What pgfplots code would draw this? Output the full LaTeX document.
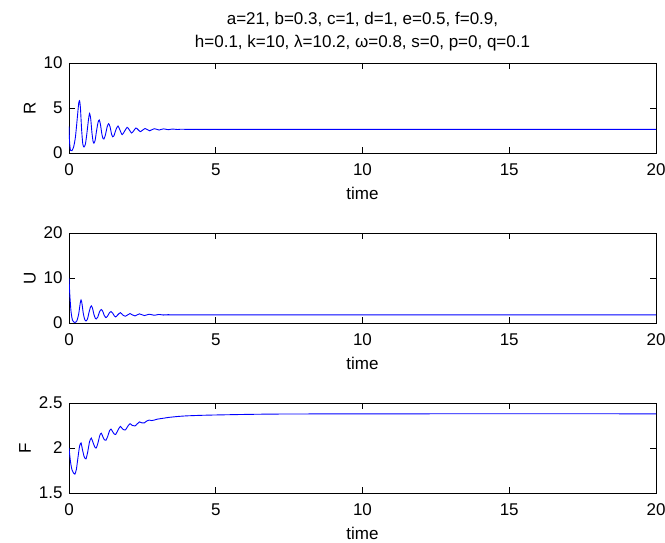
\documentclass[border=0pt]{standalone}
\usepackage{fontspec}
\setmainfont{Liberation Sans}
\usepackage{pgfplots}
\pgfplotsset{compat=1.18}
\pgfplotsset{mystyle/.style={
  scale only axis, width=587pt, height=90pt,
  anchor=south west,
  xmin=0, xmax=20, xtick={0,5,10,15,20},
  tick align=inside, major tick length=6pt,
  axis line style={line width=0.8pt},
  every tick/.style={black, line width=0.8pt},
  tick label style={font=\fontsize{17}{20}\selectfont},
  label style={font=\fontsize{17}{20}\selectfont},
  xticklabel style={yshift=-7pt},
  yticklabel style={xshift=-3pt},
  /pgf/number format/assume math mode=true,
  xlabel={time},
  xlabel style={yshift=-5pt},
  ylabel style={yshift=1pt},
  every axis plot/.append style={blue, line width=0.9pt, no markers},
}}
\begin{document}
\begin{tikzpicture}
\path[use as bounding box] (0,0) rectangle (665pt,542pt);
% R
\begin{axis}[mystyle, at={(69pt,389pt)}, ymin=0, ymax=10, ytick={0,5,10}, ylabel={R},
  title={a=21, b=0.3, c=1, d=1, e=0.5, f=0.9,\\ h=0.1, k=10, λ=10.2, ω=0.8, s=0, p=0, q=0.1},
  title style={align=center, font=\fontsize{17}{23}\selectfont, yshift=2pt}]
\addplot+[smooth, tension=0.4] coordinates {
(0,2.96) (0.02,1.2) (0.05,0.3) (0.1,0.26) (0.16,0.7) (0.22,1.8) (0.28,3.8) (0.33,5.5) (0.36,5.8) (0.39,5.0) (0.43,2.6) (0.47,1.0) (0.51,0.67) (0.56,1.0) (0.61,2.2) (0.66,3.6) (0.70,4.4) (0.74,3.8) (0.78,2.3) (0.82,1.3) (0.85,1.1) (0.89,1.4) (0.94,2.5) (0.99,3.4) (1.03,3.67) (1.07,3.2) (1.12,2.1) (1.16,1.6) (1.19,1.55) (1.24,2.0) (1.30,2.9) (1.35,3.26) (1.40,2.9) (1.45,2.1) (1.49,1.8) (1.53,1.9) (1.60,2.6) (1.67,3.0) (1.73,2.6) (1.81,2.04) (1.89,2.4) (1.98,2.85) (2.05,2.6) (2.13,2.22) (2.2,2.45) (2.28,2.78) (2.35,2.6) (2.43,2.37) (2.51,2.55) (2.59,2.72) (2.67,2.6) (2.75,2.47) (2.83,2.6) (2.91,2.7) (2.99,2.63) (3.07,2.55) (3.15,2.63) (3.23,2.68) (3.31,2.63) (3.39,2.59) (3.47,2.64) (3.55,2.66) (3.63,2.63) (3.71,2.61) (3.8,2.64) (3.9,2.64) (4.0,2.62) (4.2,2.64) (5,2.63) (20,2.63)
};
\end{axis}
% U
\begin{axis}[mystyle, at={(69pt,219pt)}, ymin=0, ymax=20, ytick={0,10,20}, ylabel={U}]
\addplot+[smooth, tension=0.4] coordinates {
(0,10) (0.03,6) (0.07,2.5) (0.12,0.6) (0.2,0.1) (0.27,0.5) (0.33,2.0) (0.38,4.3) (0.41,5.1) (0.44,4.4) (0.49,2.0) (0.54,0.7) (0.58,0.45) (0.63,0.9) (0.68,2.3) (0.73,3.5) (0.76,3.8) (0.8,3.3) (0.85,1.9) (0.9,1.0) (0.93,0.9) (0.98,1.3) (1.04,2.5) (1.1,3.0) (1.15,2.6) (1.2,1.7) (1.26,1.2) (1.32,1.6) (1.38,2.3) (1.43,2.55) (1.49,2.2) (1.54,1.6) (1.59,1.35) (1.66,1.8) (1.75,2.3) (1.83,1.8) (1.92,1.5) (2.0,1.8) (2.08,2.1) (2.16,1.8) (2.25,1.58) (2.32,1.8) (2.4,2.03) (2.48,1.85) (2.57,1.65) (2.65,1.8) (2.73,1.95) (2.81,1.85) (2.9,1.72) (2.98,1.8) (3.06,1.9) (3.14,1.84) (3.22,1.76) (3.3,1.8) (3.38,1.86) (3.46,1.82) (3.54,1.78) (3.62,1.8) (3.7,1.83) (3.8,1.8) (4,1.8) (20,1.8)
};
\end{axis}
% F
\begin{axis}[mystyle, at={(69pt,49pt)}, ymin=1.5, ymax=2.5, ytick={1.5,2,2.5}, ylabel={F}]
\addplot+[smooth, tension=0.4] coordinates {
(0,2.0) (0.05,1.85) (0.1,1.76) (0.16,1.72) (0.2,1.71) (0.25,1.76) (0.3,1.88) (0.36,2.02) (0.41,2.056) (0.46,1.98) (0.52,1.9) (0.58,1.88) (0.64,1.96) (0.7,2.07) (0.76,2.11) (0.82,2.06) (0.88,2.01) (0.93,2.0) (0.99,2.06) (1.05,2.14) (1.1,2.165) (1.16,2.12) (1.21,2.09) (1.26,2.086) (1.32,2.13) (1.38,2.19) (1.43,2.21) (1.49,2.18) (1.54,2.155) (1.59,2.15) (1.67,2.2) (1.75,2.24) (1.83,2.21) (1.92,2.2) (2.0,2.24) (2.08,2.27) (2.16,2.25) (2.25,2.245) (2.33,2.27) (2.4,2.29) (2.48,2.28) (2.57,2.28) (2.65,2.3) (2.73,2.31) (2.82,2.305) (2.9,2.31) (3.0,2.32) (3.2,2.33) (3.4,2.34) (3.7,2.35) (4.0,2.357) (4.5,2.363) (5,2.367) (6,2.373) (7,2.377) (9,2.379) (12,2.38) (20,2.38)
};
\end{axis}
\end{tikzpicture}
\end{document}
